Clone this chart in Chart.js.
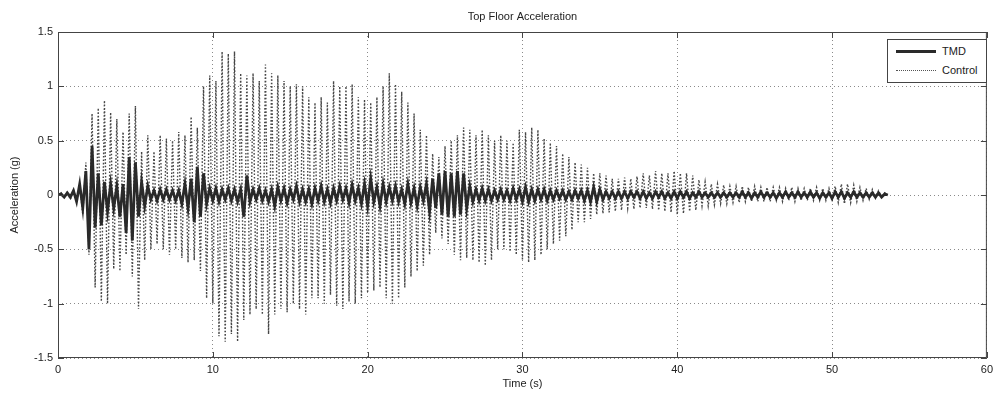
<!DOCTYPE html>
<html lang="en">
<head>
    <meta charset="UTF-8">
    <title>Top Floor Acceleration</title>
    <script src="https://cdn.jsdelivr.net/npm/chart.js"></script>
    <style>
        html, body { margin: 0; padding: 0; background: #fff; }
        .wrap { position: relative; width: 998px; height: 394px; }
        .legend {
            position: absolute; left: 887px; top: 39px; width: 98px; height: 42px;
            border: 1px solid #444; background: #fff;
            font-family: "Liberation Sans", Arial, sans-serif; font-size: 11px; color: #222;
        }
        .legend .row { position: absolute; left: 8px; height: 14px; display: flex; align-items: center; }
        .legend .sample { width: 40px; margin-right: 6px; }
        .legend .solid { border-top: 3px solid #2a2a2a; }
        .legend .dotted { border-top: 1px dotted #555; }
    </style>
</head>
<body>
    <div class="wrap">
        <canvas id="accChart" width="998" height="394"></canvas>
        <div class="legend">
            <div class="row" style="top:4px"><span class="sample solid"></span>TMD</div>
            <div class="row" style="top:23px"><span class="sample dotted"></span>Control</div>
        </div>
    </div>

    <script>
        const TITLE = 'Top Floor Acceleration';
        const X_TITLE = 'Time (s)';
        const Y_TITLE = 'Acceleration (g)';
        const X_TICKS = [0, 10, 20, 30, 40, 50, 60];
        const Y_TICKS = [-1.5, -1, -0.5, 0, 0.5, 1, 1.5];
        const SAMPLE_STEP = 0.2; // seconds between samples (peaks)

        // TMD response, one row = 2 s
        const tmd = [
            0, 0.01, -0.02, 0.02, -0.02, 0.04, -0.06, 0.1, -0.12, 0.22,
            -0.5, 0.45, -0.3, 0.2, -0.28, 0.12, -0.15, 0.1, -0.12, 0.08,
            -0.2, 0.1, -0.35, 0.35, -0.42, 0.3, -0.2, 0.12, -0.1, 0.08,
            -0.04, 0.04, -0.05, 0.05, -0.04, 0.05, -0.04, 0.04, -0.05, 0.04,
            -0.08, 0.1, -0.12, 0.15, -0.25, 0.26, -0.2, 0.2, -0.08, 0.06,
            -0.05, 0.06, -0.06, 0.05, -0.04, 0.06, -0.05, 0.05, -0.06, 0.05,
            -0.2, 0.18, -0.06, 0.05, -0.04, 0.06, -0.05, 0.04, -0.06, 0.05,
            -0.1, 0.07, -0.05, 0.06, -0.07, 0.05, -0.04, 0.08, -0.06, 0.05,
            -0.06, 0.05, -0.08, 0.06, -0.05, 0.08, -0.06, 0.05, -0.07, 0.06,
            -0.05, 0.08, -0.04, 0.06, -0.07, 0.09, -0.05, 0.06, -0.08, 0.1,
            -0.1, 0.15, -0.06, 0.07, -0.1, 0.1, -0.06, 0.07, -0.05, 0.08,
            -0.06, 0.05, -0.08, 0.1, -0.07, 0.06, -0.1, 0.07, -0.05, 0.1,
            -0.15, 0.15, -0.12, 0.2, -0.18, 0.22, -0.2, 0.2, -0.2, 0.22,
            -0.18, 0.2, -0.12, 0.08, -0.06, 0.05, -0.05, 0.06, -0.05, 0.05,
            -0.05, 0.04, -0.04, 0.05, -0.04, 0.04, -0.05, 0.06, -0.04, 0.05,
            -0.06, 0.07, -0.06, 0.05, -0.05, 0.05, -0.04, 0.05, -0.05, 0.04,
            -0.04, 0.04, -0.03, 0.04, -0.04, 0.03, -0.04, 0.04, -0.03, 0.04,
            -0.05, 0.04, -0.06, 0.07, -0.06, 0.05, -0.04, 0.03, -0.03, 0.03,
            -0.03, 0.03, -0.03, 0.03, -0.03, 0.03, -0.02, 0.03, -0.03, 0.03,
            -0.03, 0.02, -0.03, 0.03, -0.02, 0.03, -0.03, 0.02, -0.03, 0.03,
            -0.03, 0.03, -0.02, 0.03, -0.03, 0.02, -0.02, 0.03, -0.02, 0.02,
            -0.02, 0.02, -0.02, 0.02, -0.02, 0.02, -0.02, 0.02, -0.02, 0.02,
            -0.02, 0.03, -0.02, 0.02, -0.03, 0.02, -0.02, 0.03, -0.02, 0.02,
            -0.02, 0.02, -0.03, 0.02, -0.02, 0.03, -0.02, 0.02, -0.02, 0.03,
            -0.02, 0.02, -0.02, 0.03, -0.02, 0.02, -0.03, 0.02, -0.02, 0.02,
            -0.03, 0.03, -0.02, 0.03, -0.03, 0.02, -0.02, 0.03, -0.02, 0.02,
            -0.02, 0.02, -0.02, 0.02, -0.02, 0.02, -0.02, 0.01, 0
        ];

        // uncontrolled response, one row = 2 s
        const control = [
            0, 0.02, -0.02, 0.03, -0.04, 0.05, -0.06, 0.1, -0.18, 0.3,
            -0.55, 0.75, -0.85, 0.8, -0.98, 0.87, -1.0, 0.76, -0.68, 0.7,
            -0.7, 0.58, -0.55, 0.75, -0.75, 0.82, -1.05, 0.4, -0.6, 0.55,
            -0.5, 0.4, -0.45, 0.55, -0.5, 0.52, -0.55, 0.5, -0.5, 0.58,
            -0.58, 0.55, -0.62, 0.72, -0.6, 0.62, -0.7, 1.0, -0.95, 1.1,
            -1.0, 1.05, -1.3, 1.32, -1.35, 1.3, -1.28, 1.32, -1.35, 1.12,
            -1.15, 1.1, -1.1, 1.12, -1.05, 1.05, -1.1, 1.2, -1.28, 1.12,
            -1.1, 1.1, -1.05, 1.05, -1.08, 1.0, -1.0, 1.02, -1.05, 1.0,
            -1.1, 0.9, -0.95, 0.85, -0.95, 0.9, -1.0, 0.85, -0.92, 1.05,
            -1.02, 1.0, -1.05, 1.0, -0.98, 1.02, -1.0, 0.9, -0.95, 0.88,
            -0.9, 0.85, -0.88, 0.9, -0.85, 1.0, -0.95, 1.12, -1.0, 1.02,
            -0.95, 0.95, -0.85, 0.85, -0.75, 0.75, -0.7, 0.6, -0.65, 0.55,
            -0.55, 0.38, -0.35, 0.35, -0.4, 0.45, -0.45, 0.5, -0.55, 0.55,
            -0.6, 0.62, -0.58, 0.6, -0.6, 0.55, -0.62, 0.6, -0.65, 0.55,
            -0.6, 0.5, -0.5, 0.55, -0.5, 0.5, -0.52, 0.48, -0.55, 0.6,
            -0.6, 0.58, -0.62, 0.62, -0.6, 0.6, -0.55, 0.52, -0.5, 0.48,
            -0.45, 0.45, -0.42, 0.38, -0.38, 0.35, -0.32, 0.3, -0.25, 0.28,
            -0.25, 0.25, -0.22, 0.2, -0.18, 0.2, -0.17, 0.18, -0.16, 0.15,
            -0.15, 0.15, -0.14, 0.16, -0.12, 0.15, -0.13, 0.17, -0.12, 0.2,
            -0.12, 0.18, -0.13, 0.22, -0.14, 0.2, -0.15, 0.2, -0.16, 0.22,
            -0.18, 0.2, -0.17, 0.2, -0.15, 0.18, -0.14, 0.14, -0.1, 0.12,
            -0.1, 0.1, -0.09, 0.1, -0.08, 0.09, -0.08, 0.08, -0.07, 0.08,
            -0.07, 0.08, -0.06, 0.07, -0.06, 0.08, -0.06, 0.07, -0.06, 0.07,
            -0.06, 0.07, -0.05, 0.07, -0.06, 0.06, -0.05, 0.07, -0.06, 0.06,
            -0.05, 0.06, -0.05, 0.06, -0.05, 0.07, -0.05, 0.06, -0.05, 0.06,
            -0.06, 0.08, -0.07, 0.1, -0.08, 0.1, -0.07, 0.09, -0.06, 0.07,
            -0.05, 0.06, -0.04, 0.05, -0.03, 0.04, -0.02, 0.02, 0
        ];

        const toPoints = arr => arr.map((v, i) => ({ x: +(i * SAMPLE_STEP).toFixed(2), y: v }));
        const FONT = { family: '"Liberation Sans", Arial, sans-serif', size: 11 };

        // MATLAB style box, inner ticks and title
        const framePlugin = {
            id: 'frame',
            afterDraw(chart) {
                const { ctx, chartArea: a, scales } = chart;
                ctx.save();
                ctx.setLineDash([]);
                ctx.strokeStyle = '#444';
                ctx.lineWidth = 1;
                ctx.strokeRect(a.left + 0.5, a.top + 0.5, a.right - a.left - 1, a.bottom - a.top - 1);
                ctx.beginPath();
                X_TICKS.forEach(v => {
                    const x = Math.round(scales.x.getPixelForValue(v)) + 0.5;
                    ctx.moveTo(x, a.bottom); ctx.lineTo(x, a.bottom - 6);
                    ctx.moveTo(x, a.top); ctx.lineTo(x, a.top + 6);
                });
                Y_TICKS.forEach(v => {
                    const y = Math.round(scales.y.getPixelForValue(v)) + 0.5;
                    ctx.moveTo(a.left, y); ctx.lineTo(a.left + 6, y);
                    ctx.moveTo(a.right, y); ctx.lineTo(a.right - 6, y);
                });
                ctx.stroke();
                ctx.fillStyle = '#222';
                ctx.font = '11px "Liberation Sans", Arial, sans-serif';
                ctx.textAlign = 'center';
                ctx.textBaseline = 'middle';
                ctx.fillText(TITLE, (a.left + a.right) / 2, 17);
                ctx.restore();
            }
        };

        const gridOpts = { color: '#8a8a8a', drawTicks: false };

        new Chart(document.getElementById('accChart'), {
            type: 'line',
            data: {
                datasets: [{
                    label: 'TMD',
                    data: toPoints(tmd),
                    borderColor: '#2a2a2a',
                    borderWidth: 2.8,
                    pointRadius: 0,
                    tension: 0
                }, {
                    label: 'Control',
                    data: toPoints(control),
                    borderColor: '#474747',
                    borderWidth: 1.4,
                    borderDash: [1.6, 1.8],
                    pointRadius: 0,
                    tension: 0
                }]
            },
            options: {
                responsive: false,
                animation: false,
                layout: { padding: { top: 32, right: 4, left: 0, bottom: 0 } },
                plugins: { legend: { display: false }, title: { display: false }, tooltip: { enabled: false } },
                scales: {
                    x: {
                        type: 'linear', min: 0, max: 60,
                        afterBuildTicks: s => { s.ticks = X_TICKS.map(v => ({ value: v })); },
                        afterFit: s => { s.height = 36; },
                        grid: gridOpts,
                        border: { display: false, dash: [1, 3] },
                        ticks: { color: '#222', font: FONT, padding: 5, maxRotation: 0, callback: v => String(v) },
                        title: { display: true, text: X_TITLE, color: '#222', font: FONT, padding: { top: 0, bottom: 3 } }
                    },
                    y: {
                        min: -1.5, max: 1.5,
                        afterBuildTicks: s => { s.ticks = Y_TICKS.map(v => ({ value: v })); },
                        afterFit: s => { s.width = 58; },
                        grid: gridOpts,
                        border: { display: false, dash: [1, 3] },
                        ticks: { color: '#222', font: FONT, padding: 5, callback: v => String(v) },
                        title: { display: true, text: Y_TITLE, color: '#222', font: FONT, padding: { top: 8, bottom: 0 } }
                    }
                }
            },
            plugins: [framePlugin]
        });
    </script>
</body>
</html>
